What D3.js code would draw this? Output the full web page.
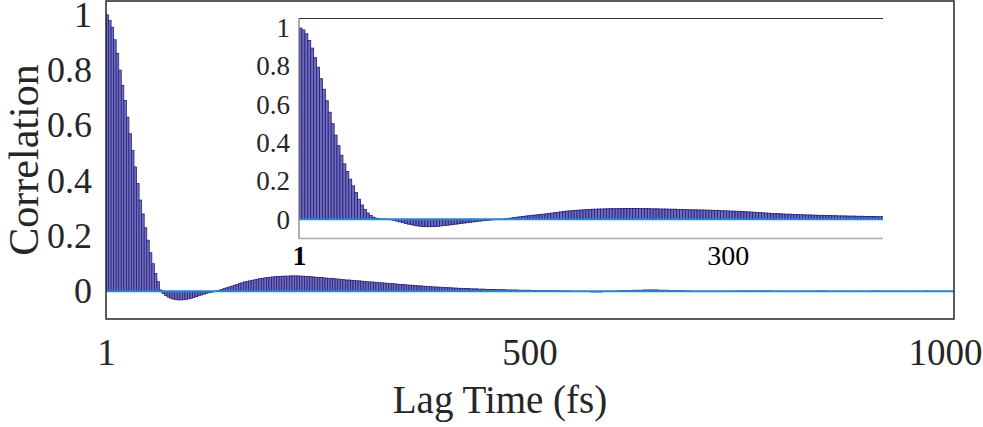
<!DOCTYPE html>
<html>
<head>
<meta charset="utf-8">
<script src="https://cdn.jsdelivr.net/npm/d3@7"></script>
<style>
  body { margin: 0; background: #fff; }
  svg { display: block; }
</style>
</head>
<body>
<div id="chart"></div>
<script>
// lag step of the bars (fs)
const mainStep = 3;
const insetStep = 2;

// main correlation, lags 1, 4, 7, ... 997
const mainCorr = [
  1.000, 0.980, 0.955, 0.910, 0.860, 0.800, 0.745, 0.690, 0.630, 0.570,
  0.510, 0.450, 0.390, 0.330, 0.280, 0.230, 0.185, 0.140, 0.100, 0.065,
  0.035, 0.005, -0.008, -0.015, -0.021, -0.025, -0.028, -0.030, -0.031, -0.031,
  -0.030, -0.029, -0.027, -0.025, -0.022, -0.019, -0.016, -0.013, -0.010, -0.007,
  -0.005, -0.003, -0.001, 0.001, 0.004, 0.007, 0.010, 0.013, 0.016, 0.019,
  0.022, 0.025, 0.028, 0.031, 0.034, 0.036, 0.038, 0.040, 0.042, 0.044,
  0.046, 0.047, 0.049, 0.050, 0.051, 0.052, 0.053, 0.054, 0.054, 0.055,
  0.055, 0.055, 0.056, 0.056, 0.056, 0.056, 0.055, 0.055, 0.054, 0.054,
  0.053, 0.052, 0.051, 0.050, 0.050, 0.049, 0.048, 0.047, 0.047, 0.046,
  0.045, 0.044, 0.043, 0.042, 0.041, 0.041, 0.040, 0.039, 0.038, 0.038,
  0.037, 0.036, 0.035, 0.034, 0.034, 0.033, 0.032, 0.031, 0.031, 0.030,
  0.029, 0.028, 0.028, 0.027, 0.026, 0.025, 0.025, 0.024, 0.023, 0.022,
  0.022, 0.021, 0.020, 0.020, 0.019, 0.018, 0.018, 0.017, 0.016, 0.016,
  0.015, 0.015, 0.014, 0.014, 0.013, 0.013, 0.012, 0.012, 0.011, 0.011,
  0.010, 0.010, 0.010, 0.009, 0.009, 0.009, 0.008, 0.008, 0.008, 0.007,
  0.007, 0.007, 0.007, 0.006, 0.006, 0.006, 0.006, 0.005, 0.005, 0.005,
  0.005, 0.005, 0.004, 0.004, 0.004, 0.004, 0.004, 0.003, 0.003, 0.003,
  0.003, 0.003, 0.003, 0.002, 0.002, 0.002, 0.002, 0.002, 0.001, 0.001,
  0.001, 0.001, 0.001, 0.000, 0.000, 0.000, -0.001, -0.001, -0.001, -0.001,
  -0.002, -0.002, -0.002, -0.002, -0.002, -0.001, -0.001, -0.001, 0.000, 0.000,
  0.001, 0.001, 0.002, 0.002, 0.003, 0.003, 0.003, 0.004, 0.004, 0.004,
  0.004, 0.005, 0.005, 0.005, 0.005, 0.005, 0.005, 0.004, 0.004, 0.004,
  0.004, 0.003, 0.003, 0.003, 0.002, 0.002, 0.002, 0.001, 0.001, 0.001,
  0.000, 0.000, 0.000, -0.001, -0.001, -0.001, -0.001, -0.001, -0.001, -0.001,
  -0.001, -0.001, -0.001, 0.000, 0.000, 0.000, 0.000, 0.001, 0.001, 0.001,
  0.001, 0.001, 0.001, 0.001, 0.001, 0.001, 0.001, 0.001, 0.001, 0.001,
  0.001, 0.001, 0.000, 0.000, 0.000, 0.000, 0.000, -0.001, -0.001, -0.001,
  -0.001, -0.001, -0.001, 0.000, 0.000, 0.000, 0.000, 0.000, 0.001, 0.001,
  0.001, 0.001, 0.001, 0.001, 0.000, 0.000, 0.000, 0.000, 0.000, 0.000,
  0.000, -0.001, -0.001, -0.001, -0.001, 0.000, 0.000, 0.000, 0.000, 0.000,
  0.001, 0.001, 0.001, 0.001, 0.000, 0.000, 0.000, 0.000, 0.000, 0.000,
  0.000, 0.000, 0.000, -0.001, -0.001, 0.000, 0.000, 0.000, 0.000, 0.000,
  0.000, 0.001, 0.001, 0.000, 0.000, 0.000, 0.000, 0.000, 0.000, 0.000,
  0.000, 0.000, 0.000
];

// inset correlation, lags 1, 3, 5, ... 399
const insetCorr = [
  1.000, 0.990, 0.970, 0.935, 0.895, 0.845, 0.795, 0.735, 0.680, 0.620,
  0.560, 0.500, 0.440, 0.385, 0.335, 0.290, 0.250, 0.210, 0.175, 0.140,
  0.105, 0.075, 0.052, 0.033, 0.020, 0.011, 0.006, 0.003, 0.002, 0.001,
  0.000, -0.002, -0.005, -0.009, -0.013, -0.017, -0.021, -0.025, -0.028, -0.031,
  -0.034, -0.036, -0.037, -0.038, -0.038, -0.038, -0.037, -0.036, -0.034, -0.032,
  -0.031, -0.029, -0.027, -0.025, -0.023, -0.021, -0.019, -0.017, -0.015, -0.013,
  -0.011, -0.009, -0.008, -0.006, -0.005, -0.003, -0.002, -0.001, 0.000, 0.001,
  0.003, 0.005, 0.007, 0.009, 0.011, 0.013, 0.015, 0.017, 0.019, 0.021,
  0.022, 0.024, 0.026, 0.027, 0.029, 0.031, 0.033, 0.035, 0.037, 0.039,
  0.041, 0.043, 0.044, 0.046, 0.047, 0.048, 0.049, 0.050, 0.051, 0.052,
  0.053, 0.053, 0.054, 0.054, 0.055, 0.055, 0.056, 0.056, 0.056, 0.056,
  0.057, 0.057, 0.057, 0.057, 0.057, 0.057, 0.056, 0.056, 0.056, 0.056,
  0.055, 0.055, 0.055, 0.054, 0.054, 0.054, 0.053, 0.053, 0.053, 0.052,
  0.052, 0.051, 0.051, 0.050, 0.050, 0.050, 0.049, 0.049, 0.049, 0.048,
  0.048, 0.047, 0.047, 0.046, 0.045, 0.045, 0.044, 0.043, 0.043, 0.042,
  0.042, 0.041, 0.040, 0.039, 0.038, 0.037, 0.036, 0.035, 0.034, 0.033,
  0.032, 0.031, 0.030, 0.030, 0.029, 0.028, 0.027, 0.027, 0.026, 0.025,
  0.025, 0.024, 0.024, 0.023, 0.023, 0.022, 0.022, 0.021, 0.021, 0.021,
  0.020, 0.020, 0.019, 0.019, 0.018, 0.018, 0.018, 0.017, 0.017, 0.017,
  0.016, 0.016, 0.016, 0.015, 0.015, 0.015, 0.015, 0.014, 0.014, 0.014
];

const yTicks = [0, 0.2, 0.4, 0.6, 0.8, 1];
const mainXTicks = [1, 500, 1000];
const insetXTicks = [1, 300];
const xTitle = "Lag Time (fs)";
const yTitle = "Correlation";

const W = 983, H = 427;
const serif = "'Liberation Serif', 'Times New Roman', serif";
const barFill = "#716cbb";
const barEdge = "#28247e";
const baseColor = "#2a86d2";

const svg = d3.select("#chart")
  .append("svg")
  .attr("width", W)
  .attr("height", H);

// main axes box
const main = {left: 106, right: 954, top: 1, bottom: 319};
const x = d3.scaleLinear().domain([1, 1000]).range([main.left, main.right]);
const y = d3.scaleLinear().domain([-0.1, 1.05]).range([main.bottom, main.top]);

svg.append("clipPath").attr("id", "clipMain")
  .append("rect")
  .attr("x", main.left).attr("y", main.top)
  .attr("width", main.right - main.left).attr("height", main.bottom - main.top);

const mainData = mainCorr.map((v, i) => ({lag: 1 + i * mainStep, v: v}));

svg.append("g")
  .attr("clip-path", "url(#clipMain)")
  .selectAll("rect")
  .data(mainData)
  .join("rect")
    .attr("x", d => x(d.lag))
    .attr("width", d => x(d.lag + mainStep) - x(d.lag))
    .attr("y", d => Math.min(y(d.v), y(0)))
    .attr("height", d => Math.abs(y(d.v) - y(0)))
    .attr("fill", barFill)
    .attr("stroke", barEdge)
    .attr("stroke-width", 0.8);

svg.append("line")
  .attr("x1", main.left).attr("x2", main.right)
  .attr("y1", y(0)).attr("y2", y(0))
  .attr("stroke", baseColor)
  .attr("stroke-width", 2);

svg.append("rect")
  .attr("x", main.left).attr("y", main.top)
  .attr("width", main.right - main.left).attr("height", main.bottom - main.top)
  .attr("fill", "none")
  .attr("stroke", "#262626")
  .attr("stroke-width", 1.5);

// main y axis labels
const yAxis = svg.append("g")
  .attr("transform", `translate(${main.left},0)`)
  .call(d3.axisLeft(y).tickValues(yTicks).tickSize(0).tickPadding(14).tickFormat(d3.format("")));
yAxis.select(".domain").remove();
yAxis.selectAll("text")
  .attr("font-family", serif)
  .attr("font-size", 36)
  .attr("fill", "#262626");

// main x axis labels
const xAxis = svg.append("g")
  .attr("transform", `translate(0,${main.bottom})`)
  .call(d3.axisBottom(x).tickValues(mainXTicks).tickSize(0).tickPadding(20).tickFormat(d3.format("")));
xAxis.select(".domain").remove();
xAxis.selectAll("text")
  .attr("font-family", serif)
  .attr("font-size", 37)
  .attr("fill", "#262626")
  .attr("dx", d => d === 1000 ? -9 : 0);

svg.append("text")
  .attr("x", 500)
  .attr("y", 413)
  .attr("text-anchor", "middle")
  .attr("font-family", serif)
  .attr("font-size", 39)
  .attr("fill", "#262626")
  .text(xTitle);

svg.append("text")
  .attr("transform", "translate(38,160) rotate(-90)")
  .attr("text-anchor", "middle")
  .attr("font-family", serif)
  .attr("font-size", 42)
  .attr("fill", "#262626")
  .text(yTitle);

// inset
const inset = {left: 299, right: 883, top: 18.5, bottom: 238.5};
const xi = d3.scaleLinear().domain([1, 400]).range([inset.left, inset.right]);
const yi = d3.scaleLinear().domain([-0.1, 1.05]).range([inset.bottom, inset.top]);

svg.append("rect")
  .attr("x", inset.left).attr("y", inset.top)
  .attr("width", inset.right - inset.left).attr("height", inset.bottom - inset.top)
  .attr("fill", "#fff");

svg.append("clipPath").attr("id", "clipInset")
  .append("rect")
  .attr("x", inset.left).attr("y", inset.top)
  .attr("width", inset.right - inset.left).attr("height", inset.bottom - inset.top);

const insetData = insetCorr.map((v, i) => ({lag: 1 + i * insetStep, v: v}));

svg.append("g")
  .attr("clip-path", "url(#clipInset)")
  .selectAll("rect")
  .data(insetData)
  .join("rect")
    .attr("x", d => xi(d.lag))
    .attr("width", d => xi(d.lag + insetStep) - xi(d.lag))
    .attr("y", d => Math.min(yi(d.v), yi(0)))
    .attr("height", d => Math.abs(yi(d.v) - yi(0)))
    .attr("fill", barFill)
    .attr("stroke", barEdge)
    .attr("stroke-width", 0.9);

svg.append("line")
  .attr("x1", inset.left).attr("x2", inset.right)
  .attr("y1", yi(0)).attr("y2", yi(0))
  .attr("stroke", baseColor)
  .attr("stroke-width", 2);

// inset frame: dark top, grey left and bottom
svg.append("line")
  .attr("x1", inset.left).attr("x2", inset.right)
  .attr("y1", inset.top).attr("y2", inset.top)
  .attr("stroke", "#333").attr("stroke-width", 1.2);
svg.append("line")
  .attr("x1", inset.left).attr("x2", inset.left)
  .attr("y1", inset.top).attr("y2", inset.bottom)
  .attr("stroke", "#777").attr("stroke-width", 1.2);
svg.append("line")
  .attr("x1", inset.left).attr("x2", inset.right)
  .attr("y1", inset.bottom).attr("y2", inset.bottom)
  .attr("stroke", "#aaa").attr("stroke-width", 1.5);

const yiAxis = svg.append("g")
  .attr("transform", `translate(${inset.left},0)`)
  .call(d3.axisLeft(yi).tickValues(yTicks).tickSize(0).tickPadding(9).tickFormat(d3.format("")));
yiAxis.select(".domain").remove();
yiAxis.selectAll("text")
  .attr("font-family", serif)
  .attr("font-size", 27)
  .attr("fill", "#262626");

const xiAxis = svg.append("g")
  .attr("transform", `translate(0,${inset.bottom})`)
  .call(d3.axisBottom(xi).tickValues(insetXTicks).tickSize(0).tickPadding(7).tickFormat(d3.format("")));
xiAxis.select(".domain").remove();
xiAxis.selectAll("text")
  .attr("font-family", serif)
  .attr("font-size", 28)
  .attr("fill", "#000")
  .attr("font-weight", d => d === 1 ? "bold" : "normal")
  .attr("dx", d => d === 300 ? -9 : 0);
</script>
</body>
</html>
